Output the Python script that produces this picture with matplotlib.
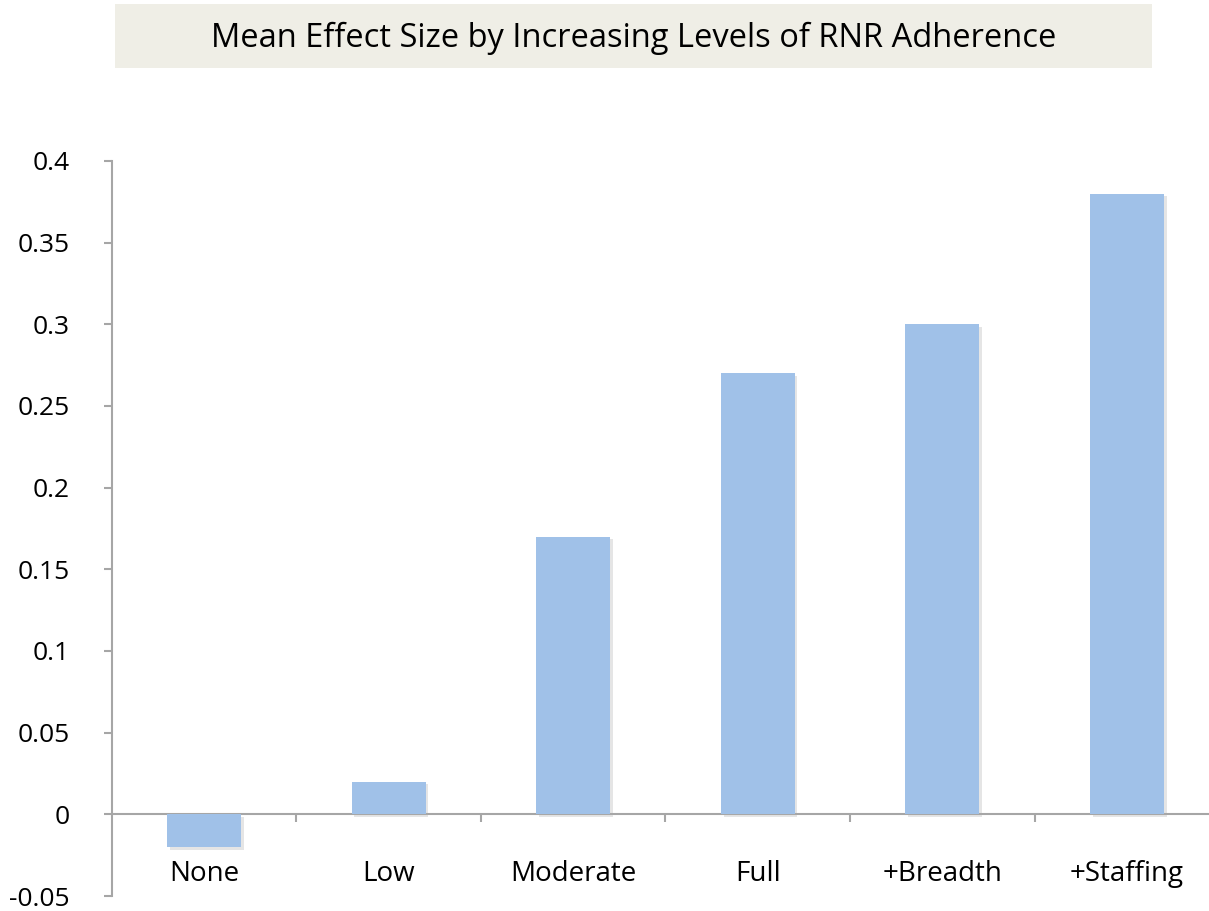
import matplotlib
matplotlib.use("Agg")
import matplotlib.pyplot as plt
import matplotlib.patheffects as pe
from matplotlib.patches import Rectangle
from matplotlib.ticker import MultipleLocator, FixedLocator, FuncFormatter

categories = ["None", "Low", "Moderate", "Full", "+Breadth", "+Staffing"]
values = [-0.02, 0.02, 0.17, 0.27, 0.30, 0.38]
title = "Mean Effect Size by Increasing Levels of RNR Adherence"

W, H = 1209, 911
fig = plt.figure(figsize=(W / 100, H / 100), dpi=100)
font = "Open Sans"
axcol = "#A6A6A6"

# title banner
fig.patches.append(Rectangle((115 / W, 1 - 68 / H), (1152 - 115) / W, 64 / H,
                             transform=fig.transFigure, facecolor="#EFEEE6",
                             edgecolor="none", zorder=0))
fig.text(634 / W, 1 - 38 / H, title, ha="center", va="center",
         fontsize=23.5, family=font, color="#000000")

ax = fig.add_axes([111.7 / W, 15 / H, 1107.6 / W, (896 - 161) / H])
x = list(range(len(categories)))
bars = ax.bar(x, values, width=0.4, color="#A0C1E8", zorder=3)
for b in bars:
    b.set_path_effects([pe.SimplePatchShadow(offset=(2, -2), shadow_rgbFace="#AAAAAA", alpha=0.3),
                        pe.Normal()])

ax.set_xlim(-0.5, len(categories) - 0.5)
ax.set_ylim(-0.05, 0.4)
ax.yaxis.set_major_locator(MultipleLocator(0.05))
ax.yaxis.set_major_formatter(FuncFormatter(lambda v, p: ("%.2f" % v).rstrip("0").rstrip(".") if abs(v) > 1e-9 else "0"))

for s in ["top", "right"]:
    ax.spines[s].set_visible(False)
ax.spines["left"].set_color(axcol)
ax.spines["left"].set_linewidth(1.5)
ax.spines["bottom"].set_position(("data", 0))
ax.spines["bottom"].set_color(axcol)
ax.spines["bottom"].set_linewidth(1.5)

ax.set_xticks(x)
ax.set_xticklabels(categories)
ax.xaxis.set_minor_locator(FixedLocator([i + 0.5 for i in range(len(categories) - 1)]))
ax.tick_params(axis="x", which="major", length=0, pad=33, labelsize=20)
ax.tick_params(axis="x", which="minor", length=6, width=1.5, color=axcol, direction="out")
ax.tick_params(axis="y", length=6, width=1.5, color=axcol, pad=24, labelsize=19)
for lab in ax.get_xticklabels() + ax.get_yticklabels():
    lab.set_family(font)
    lab.set_color("#000000")

fig.savefig("out.png", dpi=100)
